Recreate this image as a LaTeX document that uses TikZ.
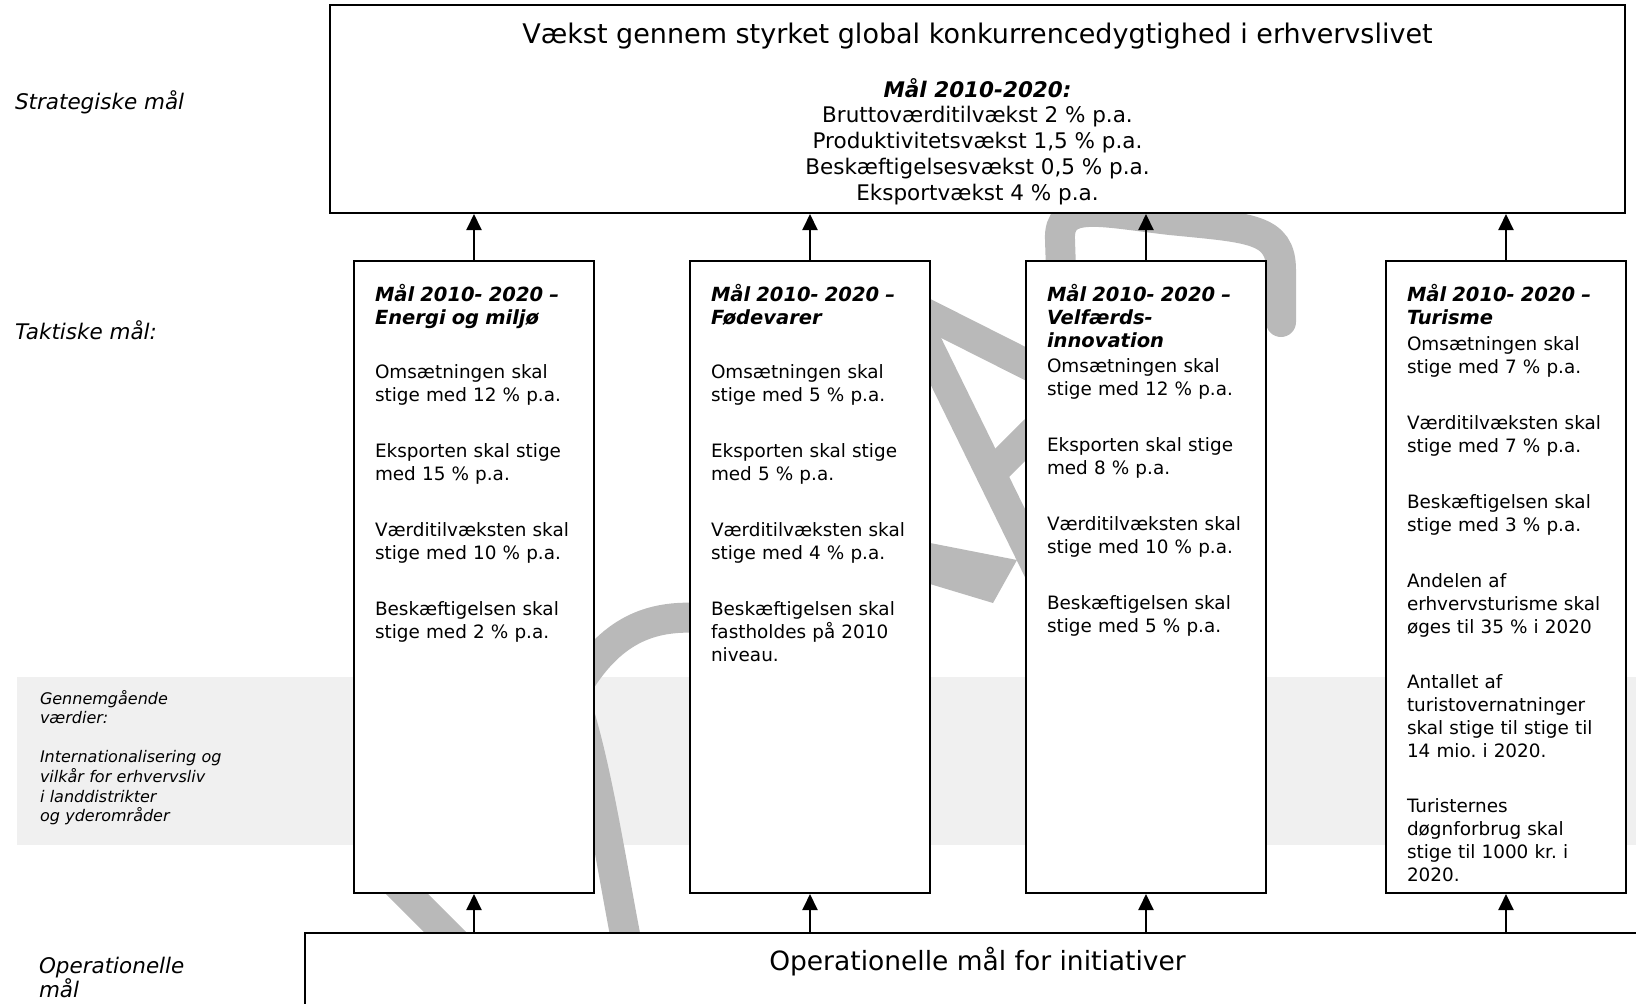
\documentclass[tikz,border=0pt]{standalone}
\usepackage{fontspec}
\setmainfont{DejaVu Sans}
\usetikzlibrary{arrows.meta,positioning}
\frenchspacing
\tikzset{
every picture/.style={line width=2pt},
kasse/.style={draw, fill=white, inner sep=0pt},
kolonne/.style={kasse, minimum width=240pt, minimum height=632pt},
koltekst/.style={anchor=north west, inner sep=0pt, text width=216pt, align=left, font=\fontsize{18.4}{23}\selectfont},
pil/.style={-{Triangle[width=15pt,length=16pt]}},
vand/.style={draw=gray!55, line width=30pt},
etiket/.style={inner sep=0pt, font=\fontsize{21.5}{21}\selectfont\itshape}
}
\newcommand{\overskrift}{\fontsize{19.5}{23}\selectfont\bfseries\itshape}

\begin{document}
\begin{tikzpicture}[x=1pt, y=-1pt]
  \useasboundingbox (0,0) rectangle (1636,1004);
  \fill[gray!12] (17,677) rectangle (1640,845);
  \draw[vand] (380,867) -- (470,957);
  \draw[vand] (575,700) .. controls (598,770) and (612,870) .. (630,960);
  \draw[vand] (575,690) .. controls (610,630) and (650,615) .. (700,618);
  \draw[vand] (915,308) -- (1040,371);
  \draw[vand] (922,333) -- (1048,590);
  \draw[vand] (990,475) -- (1035,430);
  \fill[gray!55] (920,541) -- (1017,560) -- (993,603) -- (920,581) -- cycle;
  \draw[vand, line cap=round] (1062,300) -- (1060,240) .. controls (1058,200) and (1100,212) .. (1170,220)
    .. controls (1250,228) and (1281,228) .. (1281,270) -- (1281,322);

  \node[kasse, minimum width=1295pt, minimum height=208pt] (strat) at (977.5,109) {};
  \node[kasse, minimum width=1355pt, minimum height=97pt] (oper) at (982.5,981.5) {};
  \node[kolonne] (energi) at (474,577) {};
  \node[kolonne] (foede) at (810,577) {};
  \node[kolonne] (velf) at (1146,577) {};
  \node[kolonne] (turisme) at (1506,577) {};

  \node[etiket, anchor=base west] (stratlbl) at (14,109.5) {Strategiske mål};
  \node[etiket, anchor=base west] (taktlbl) at (14,339.5) {Taktiske mål:};
  \node[etiket, anchor=north west, align=left, text width=160pt] (operlbl) at (38,956) {Operationelle\\mål};
  \node[anchor=north west, inner sep=0pt, text width=200pt, align=left, font=\fontsize{16}{19.6}\selectfont\itshape] (vaerdier) at (39,689)
    {Gennemgående\\værdier:\\[19.6pt]Internationalisering og\\vilkår for erhvervsliv\\i landdistrikter\\og yderområder};

  \node[anchor=base, font=\fontsize{27}{30}\selectfont] (titel) at (977.5,43.5) {Vækst gennem styrket global konkurrencedygtighed i erhvervslivet};
  \node[anchor=base, font=\fontsize{21.5}{26}\selectfont\bfseries\itshape] (maal) at (977.5,97.5) {Mål 2010-2020:};
  \foreach \tekst [count=\i] in {Bruttoværditilvækst 2 \% p.a., {Produktivitetsvækst 1,5 \% p.a.}, {Beskæftigelsesvækst 0,5 \% p.a.}, Eksportvækst 4 \% p.a.} {
    \pgfmathsetmacro{\yy}{96.5 + 26*\i}
    \node[anchor=base, font=\fontsize{21.5}{26}\selectfont] (maal\i) at (977.5,\yy) {\tekst};
  }
  \node[anchor=base, font=\fontsize{26.5}{30}\selectfont] (opertekst) at (977.5,970) {Operationelle mål for initiativer};

  \node[koltekst, below right=23pt and 21pt of energi.north west] (energitekst)
    {{\overskrift Mål 2010- 2020 –\\Energi og miljø}\\[31pt]
     Omsætningen skal\\stige med 12 \% p.a.\\[33pt]
     Eksporten skal stige\\med 15 \% p.a.\\[33pt]
     Værditilvæksten skal\\stige med 10 \% p.a.\\[33pt]
     Beskæftigelsen skal\\stige med 2 \% p.a.};
  \node[koltekst, below right=23pt and 21pt of foede.north west] (foedetekst)
    {{\overskrift Mål 2010- 2020 –\\Fødevarer}\\[31pt]
     Omsætningen skal\\stige med 5 \% p.a.\\[33pt]
     Eksporten skal stige\\med 5 \% p.a.\\[33pt]
     Værditilvæksten skal\\stige med 4 \% p.a.\\[33pt]
     Beskæftigelsen skal\\fastholdes på 2010\\niveau.};
  \node[koltekst, below right=23pt and 21pt of velf.north west] (velftekst)
    {{\overskrift Mål 2010- 2020 –\\Velfærds-\\innovation}\\[2pt]
     Omsætningen skal\\stige med 12 \% p.a.\\[33pt]
     Eksporten skal stige\\med 8 \% p.a.\\[33pt]
     Værditilvæksten skal\\stige med 10 \% p.a.\\[33pt]
     Beskæftigelsen skal\\stige med 5 \% p.a.};
  \node[koltekst, below right=23pt and 21pt of turisme.north west] (turismetekst)
    {{\overskrift Mål 2010- 2020 –\\Turisme}\\[3pt]
     Omsætningen skal\\stige med 7 \% p.a.\\[33pt]
     Værditilvæksten skal\\stige med 7 \% p.a.\\[33pt]
     Beskæftigelsen skal\\stige med 3 \% p.a.\\[33pt]
     Andelen af\\erhvervsturisme skal\\øges til 35 \% i 2020\\[32pt]
     Antallet af\\turistovernatninger\\skal stige til stige til\\14 mio. i 2020.\\[32pt]
     Turisternes\\døgnforbrug skal\\stige til 1000 kr. i\\2020.};

  \foreach \k in {energi,foede,velf,turisme} {
    \draw[pil] (\k.north) -- (\k.north |- strat.south);
    \draw[pil] (\k.south |- oper.north) -- (\k.south);
  }
\end{tikzpicture}
\end{document}
